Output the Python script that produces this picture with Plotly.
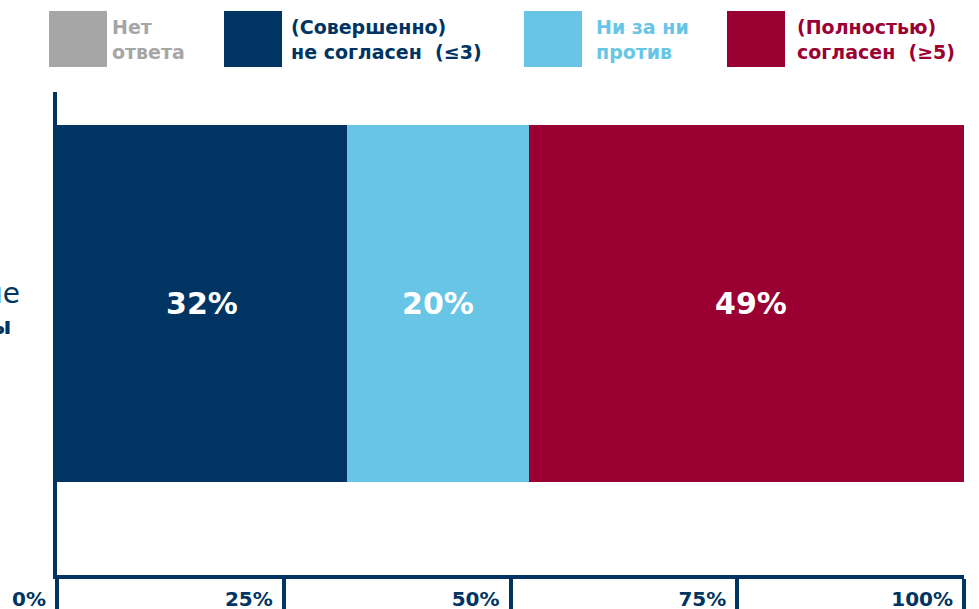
import plotly.graph_objects as go

# ---- data ----
categories = ["Нет ответа", "(Совершенно) не согласен (≤3)", "Ни за ни против", "(Полностью) согласен (≥5)"]
legend_lines = [["Нет", "ответа"], ["(Совершенно)", "не согласен\u00a0\u00a0(≤3)"],
                ["Ни за ни", "против"], ["(Полностью)", "согласен\u00a0\u00a0(≥5)"]]
values = [0, 32, 20, 49]
colors = ["#A6A6A6", "#003462", "#68C5E6", "#9B0033"]
question_lines = ["Ставки налога на наследие", "должны быть повышены"]
tick_values = [0, 25, 50, 75, 100]
tick_labels = ["0%", "25%", "50%", "75%", "100%"]

# window pixels (body margin removed via post_script)
W, H = 979, 609
PLOT_L, PLOT_R, PLOT_T, PLOT_B = 57, 964, 92, 575
ML, MR, MT, MB = PLOT_L, W - PLOT_R, PLOT_T, H - PLOT_B
NAVY = "#003462"
FONT = "DejaVu Sans"

def px_x(p):
    return (p - PLOT_L) / (PLOT_R - PLOT_L)

def px_y(p):
    return (PLOT_B - p) / (PLOT_B - PLOT_T)

fig = go.Figure()
for name, v, c in zip(categories, values, colors):
    fig.add_trace(go.Bar(
        y=[0], x=[v], name=name, orientation="h", width=1,
        marker=dict(color=c, line=dict(width=0)),
        text=[f"{v}%" if v > 0 else ""], textposition="inside",
        insidetextanchor="middle",
        textfont=dict(family=FONT, size=30, color="white", weight="bold"),
        hoverinfo="skip", showlegend=False,
    ))

shapes = []
annotations = []
sq_x = [49, 224, 524, 727]
txt_x = [110, 289, 594, 795]
for i in range(4):
    shapes.append(dict(type="rect", xref="paper", yref="paper",
                       x0=px_x(sq_x[i]), x1=px_x(sq_x[i] + 58),
                       y0=px_y(67), y1=px_y(11),
                       fillcolor=colors[i], line=dict(width=0), layer="above"))
    annotations.append(dict(xref="paper", yref="paper", x=px_x(txt_x[i]), y=px_y(39),
                            xanchor="left", yanchor="middle", align="left",
                            text="<br>".join(legend_lines[i]), showarrow=False,
                            font=dict(family=FONT, size=19, color=colors[i], weight="bold")))

annotations.append(dict(xref="paper", yref="paper", x=px_x(22), y=px_y(293),
                        xanchor="right", yanchor="middle", text=question_lines[0],
                        showarrow=False, font=dict(family=FONT, size=28, color=NAVY)))
annotations.append(dict(xref="paper", yref="paper", x=px_x(13), y=px_y(326),
                        xanchor="right", yanchor="middle", text=question_lines[1],
                        showarrow=False, font=dict(family=FONT, size=23, color=NAVY, weight="bold")))

fig.update_layout(
    width=W, height=H, barmode="stack",
    margin=dict(l=ML, r=MR, t=MT, b=MB, pad=0),
    plot_bgcolor="white", paper_bgcolor="white",
    shapes=shapes, annotations=annotations,
    bargap=0,
)
fig.update_xaxes(range=[0, 100], tickvals=tick_values,
                 ticktext=[t + "\u00a0" for t in tick_labels],
                 showgrid=False, zeroline=False, showline=True, linewidth=4, linecolor=NAVY,
                 ticks="outside", ticklen=34, tickwidth=4, tickcolor=NAVY,
                 ticklabelposition="outside left", ticklabelstandoff=3,
                 tickfont=dict(family=FONT, size=20, color=NAVY, weight="bold"),
                 automargin=False, fixedrange=True)
fig.update_yaxes(range=[-0.761, 0.592], showgrid=False, zeroline=False, showline=True,
                 linewidth=4, linecolor=NAVY, showticklabels=False, ticks="",
                 automargin=False, fixedrange=True)

fig.write_html("out.html", config={"displayModeBar": False},
               post_script="document.body.style.margin='0';document.body.style.overflow='hidden';")
